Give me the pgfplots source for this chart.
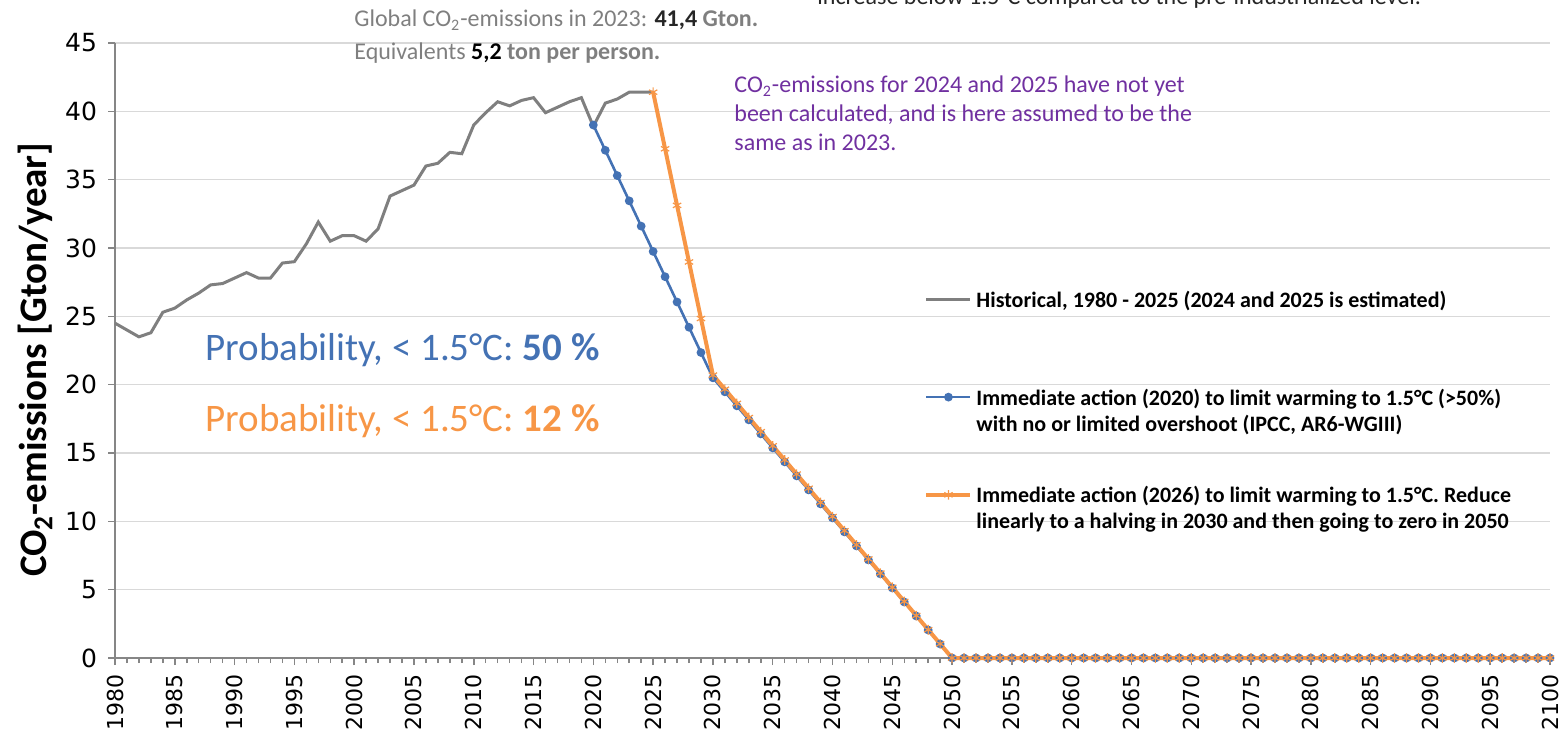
\documentclass[border=0pt]{standalone}
\usepackage{pgfplots}
\pgfplotsset{compat=1.18}
\usepackage{fontspec}
\setmainfont{Carlito}
\newfontfamily\dejavu{DejaVu Sans}
\definecolor{histgray}{RGB}{127,127,127}
\definecolor{cblue}{RGB}{68,114,180}
\definecolor{corange}{RGB}{247,150,70}
\definecolor{cpurple}{RGB}{112,48,160}
\definecolor{gridgray}{RGB}{217,217,217}
\definecolor{axisgray}{RGB}{134,134,134}
\newcommand\lt[2]{\begin{tabular}[t]{@{}l@{}}#1\\#2\end{tabular}}
\begin{document}
\begin{tikzpicture}
\begin{axis}[
  at={(57.5pt,35pt)}, anchor=south west,
  scale only axis, width=717.5pt, height=307.5pt,
  xmin=1980, xmax=2100, ymin=0, ymax=45,
  clip=false,
  axis x line*=bottom, axis y line*=left,
  axis line style={axisgray, line width=0.75pt},
  xtick={1980,1985,...,2100}, minor x tick num=4,
  ytick={0,5,...,45},
  tick align=outside,
  tick style={axisgray, line width=0.75pt},
  major tick length=3.5pt, minor tick length=2.5pt,
  ymajorgrids, grid style={gridgray, line width=0.75pt},
  /pgf/number format/assume math mode=true,
  /pgf/number format/1000 sep={},
  x tick label style={font=\dejavu\fontsize{11}{13}\selectfont, rotate=90, anchor=east},
  xticklabel shift=1pt,
  y tick label style={font=\dejavu\fontsize{12.5}{15}\selectfont},
  yticklabel shift=2pt,
  ylabel={CO\textsubscript{2}-emissions [Gton/year]},
  ylabel style={font=\bfseries\fontsize{19.5}{23}\selectfont, at={(axis description cs:-0.0557,0.485)}, anchor=center},
  legend image code/.code={\draw[mark repeat=2,mark phase=2,#1] plot coordinates {(0pt,4pt) (11pt,4pt) (22pt,4pt)};},
  legend style={at={(0.5638,0.6068)}, anchor=north west, draw=none, fill=none,
    inner sep=0pt, row sep=34.25pt, cells={anchor=base west}, nodes={inner sep=2pt},
    font=\bfseries\fontsize{11}{13}\selectfont},
]
\addplot[histgray, line width=1.5pt] coordinates {
(1980,24.5)(1981,24.0)(1982,23.5)(1983,23.8)(1984,25.3)(1985,25.6)(1986,26.2)(1987,26.7)(1988,27.3)(1989,27.4)
(1990,27.8)(1991,28.2)(1992,27.8)(1993,27.8)(1994,28.9)(1995,29.0)(1996,30.3)(1997,31.9)(1998,30.5)(1999,30.9)
(2000,30.9)(2001,30.5)(2002,31.4)(2003,33.8)(2004,34.2)(2005,34.6)(2006,36.0)(2007,36.2)(2008,37.0)(2009,36.9)
(2010,39.0)(2011,39.9)(2012,40.7)(2013,40.4)(2014,40.8)(2015,41.0)(2016,39.9)(2017,40.3)(2018,40.7)(2019,41.0)
(2020,38.9)(2021,40.6)(2022,40.9)(2023,41.4)(2024,41.4)(2025,41.4)};
\addlegendentry{\lt{Historical, 1980 - 2025 (2024 and 2025 is estimated)}{\mbox{}}}
\addplot[cblue, line width=1.3pt, mark=*, mark size=1.5pt, mark options={solid, fill=cblue}] coordinates {
(2020,39.0)(2021,37.15)(2022,35.3)(2023,33.45)(2024,31.6)(2025,29.75)(2026,27.9)(2027,26.05)(2028,24.2)(2029,22.35)
(2030,20.5)(2031,19.475)(2032,18.45)(2033,17.425)(2034,16.4)(2035,15.375)(2036,14.35)(2037,13.325)(2038,12.3)(2039,11.275)
(2040,10.25)(2041,9.225)(2042,8.2)(2043,7.175)(2044,6.15)(2045,5.125)(2046,4.1)(2047,3.075)(2048,2.05)(2049,1.025)
(2050,0)(2051,0)(2052,0)(2053,0)(2054,0)(2055,0)(2056,0)(2057,0)(2058,0)(2059,0)
(2060,0)(2061,0)(2062,0)(2063,0)(2064,0)(2065,0)(2066,0)(2067,0)(2068,0)(2069,0)
(2070,0)(2071,0)(2072,0)(2073,0)(2074,0)(2075,0)(2076,0)(2077,0)(2078,0)(2079,0)
(2080,0)(2081,0)(2082,0)(2083,0)(2084,0)(2085,0)(2086,0)(2087,0)(2088,0)(2089,0)
(2090,0)(2091,0)(2092,0)(2093,0)(2094,0)(2095,0)(2096,0)(2097,0)(2098,0)(2099,0)(2100,0)};
\addlegendentry{\lt{Immediate action (2020) to limit warming to 1.5°C (>50\%)}{with no or limited overshoot (IPCC, AR6-WGIII)}}
\addplot[corange, line width=2pt, mark=asterisk, mark size=2.4pt, mark options={solid, line width=0.6pt}] coordinates {
(2025,41.4)(2026,37.26)(2027,33.12)(2028,28.98)(2029,24.84)
(2030,20.7)(2031,19.665)(2032,18.63)(2033,17.595)(2034,16.56)(2035,15.525)(2036,14.49)(2037,13.455)(2038,12.42)(2039,11.385)
(2040,10.35)(2041,9.315)(2042,8.28)(2043,7.245)(2044,6.21)(2045,5.175)(2046,4.14)(2047,3.105)(2048,2.07)(2049,1.035)
(2050,0)(2051,0)(2052,0)(2053,0)(2054,0)(2055,0)(2056,0)(2057,0)(2058,0)(2059,0)
(2060,0)(2061,0)(2062,0)(2063,0)(2064,0)(2065,0)(2066,0)(2067,0)(2068,0)(2069,0)
(2070,0)(2071,0)(2072,0)(2073,0)(2074,0)(2075,0)(2076,0)(2077,0)(2078,0)(2079,0)
(2080,0)(2081,0)(2082,0)(2083,0)(2084,0)(2085,0)(2086,0)(2087,0)(2088,0)(2089,0)
(2090,0)(2091,0)(2092,0)(2093,0)(2094,0)(2095,0)(2096,0)(2097,0)(2098,0)(2099,0)(2100,0)};
\addlegendentry{\lt{Immediate action (2026) to limit warming to 1.5°C. Reduce}{linearly to a halving in 2030 and then going to zero in 2050}}
\end{axis}
\node[anchor=base west, inner sep=0pt, font=\fontsize{19.5}{23}\selectfont, text=cblue] at (102.5pt,183.6pt) {Probability, < 1.5°C: \textbf{50 \%}};
\node[anchor=base west, inner sep=0pt, font=\fontsize{19.5}{23}\selectfont, text=corange] at (102.5pt,148.1pt) {Probability, < 1.5°C: \textbf{12 \%}};
\node[anchor=base west, inner sep=0pt, font=\fontsize{12}{14}\selectfont, text=histgray] at (177pt,350.5pt) {Global CO\textsubscript{2}-emissions in 2023: \textbf{\textcolor{black!85}{41,4} Gton.}};
\node[anchor=base west, inner sep=0pt, font=\fontsize{12}{14}\selectfont, text=histgray] at (177pt,334pt) {Equivalents \textbf{\textcolor{black}{5,2} ton per person.}};
\node[anchor=base west, inner sep=0pt, font=\fontsize{12}{14}\selectfont, text=cpurple] at (367pt,317.5pt) {CO\textsubscript{2}-emissions for 2024 and 2025 have not yet};
\node[anchor=base west, inner sep=0pt, font=\fontsize{12}{14}\selectfont, text=cpurple] at (367pt,303pt) {been calculated, and is here assumed to be the};
\node[anchor=base west, inner sep=0pt, font=\fontsize{12}{14}\selectfont, text=cpurple] at (367pt,288.5pt) {same as in 2023.};
\node[anchor=base west, inner sep=0pt, font=\fontsize{12}{14}\selectfont, text=black!85] at (408.5pt,361.5pt) {increase below 1.5°C compared to the pre-industrialized level.};
\pgfresetboundingbox
\useasboundingbox (0,0) rectangle (781pt,364pt);
\end{tikzpicture}
\end{document}
